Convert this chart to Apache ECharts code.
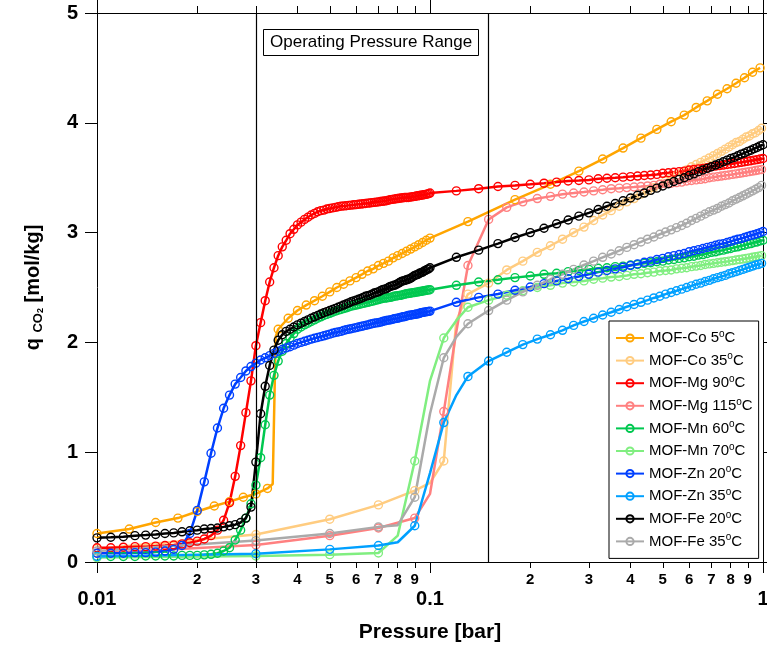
<!DOCTYPE html>
<html><head><meta charset="utf-8">
<script src="https://cdn.jsdelivr.net/npm/echarts@6/dist/echarts.min.js"></script>
<style>html,body{margin:0;padding:0;background:#fff}#c{width:767px;height:647px}</style>
</head><body><div id="c"></div>
<script>
const FONT = '"Liberation Sans", Arial, Helvetica, sans-serif';

// ---- axis ticks / labels ----
const pressureMajor = [0.01, 0.1, 1];
const pressureMajorLabels = ['0.01', '0.1', '1'];
const pressureMinor = [0.02,0.03,0.04,0.05,0.06,0.07,0.08,0.09,0.2,0.3,0.4,0.5,0.6,0.7,0.8,0.9];
const pressureMinorLabels = ['2','3','4','5','6','7','8','9','2','3','4','5','6','7','8','9'];
const qTicks = [0, 1, 2, 3, 4, 5];
const operatingRange = [0.03, 0.15];
const operatingLabel = 'Operating Pressure Range';

// ---- series ----
const seriesNames = ['MOF-Co 5°C','MOF-Co 35°C','MOF-Mg 90°C','MOF-Mg 115°C','MOF-Mn 60°C',
  'MOF-Mn 70°C','MOF-Zn 20°C','MOF-Zn 35°C','MOF-Fe 20°C','MOF-Fe 35°C'];

// [pressure bar, q mol/kg]  (third element 0 = point without marker)
const co5 = [[0.01,0.26],[0.0125,0.30],[0.015,0.36],[0.0175,0.40],[0.02,0.46],[0.0225,0.51],[0.025,0.55],[0.0275,0.59],[0.03,0.62],[0.0325,0.67],[0.0337,0.71,0],[0.0344,2.05,0],
 [0.035,2.12],[0.0375,2.22],[0.04,2.29],[0.0425,2.34],[0.045,2.38],[0.0475,2.42],[0.05,2.46],[0.0525,2.50],[0.055,2.53],[0.0575,2.56],[0.06,2.59],[0.0625,2.62],[0.065,2.65],[0.0675,2.67],[0.07,2.70],[0.0725,2.72],[0.075,2.74],[0.0775,2.77],[0.08,2.79],[0.0825,2.81],[0.085,2.83],[0.0875,2.85],[0.09,2.87],[0.0925,2.89],[0.095,2.91],[0.0975,2.93],[0.1,2.95],
 [0.13,3.10],[0.18,3.30],[0.23,3.44],[0.28,3.56],[0.33,3.67],[0.38,3.77],[0.43,3.86],[0.48,3.94],[0.53,4.01],[0.58,4.07],[0.63,4.14],[0.68,4.20],[0.73,4.26],[0.78,4.31],[0.83,4.36],[0.88,4.41],[0.93,4.46],[0.98,4.50]];

const co35 = [[0.01,0.12],[0.03,0.25],[0.05,0.39],[0.07,0.52],[0.09,0.65],[0.10,0.72,0],[0.11,0.92],[0.12,2.2,0],[0.13,2.44],[0.15,2.54],[0.17,2.66],[0.19,2.74],[0.21,2.82],[0.23,2.88],[0.25,2.94],[0.27,3.00],[0.29,3.05],[0.31,3.11],[0.33,3.16],[0.35,3.20],[0.37,3.24],[0.39,3.28],[0.41,3.31],[0.43,3.35],[0.45,3.38],[0.47,3.41],[0.49,3.44],[0.51,3.47],[0.53,3.50],[0.55,3.52],[0.57,3.55],[0.59,3.57],[0.61,3.60],[0.63,3.62],[0.65,3.64],[0.67,3.66],[0.69,3.68],[0.71,3.70],[0.73,3.72],[0.75,3.74],[0.77,3.76],[0.79,3.78],[0.81,3.80],[0.83,3.82],[0.85,3.83],[0.87,3.85],[0.89,3.87],[0.91,3.88],[0.93,3.90],[0.95,3.91],[0.97,3.93],[0.99,3.95]];

const mg90 = [[0.010,0.13],[0.011,0.13],[0.012,0.135],[0.013,0.14],[0.014,0.14],[0.015,0.145],[0.016,0.15],[0.017,0.155],[0.018,0.165],[0.019,0.175],[0.020,0.19],[0.021,0.21],[0.022,0.24],[0.023,0.29],[0.024,0.38],[0.025,0.54],[0.026,0.78],[0.027,1.06],[0.028,1.36],[0.029,1.65],[0.030,1.97],[0.031,2.18],[0.032,2.38],[0.033,2.55],[0.034,2.68],[0.035,2.79],[0.036,2.87],[0.037,2.93],[0.038,2.99],[0.039,3.03],
 [0.040,3.07],[0.041,3.095],[0.042,3.12],[0.043,3.14],[0.044,3.16],[0.045,3.175],[0.046,3.19],[0.047,3.20],[0.048,3.205],[0.049,3.215],[0.050,3.22],[0.051,3.225],[0.052,3.23],[0.053,3.235],[0.054,3.24],[0.055,3.242],[0.056,3.245],[0.057,3.248],[0.058,3.25],[0.059,3.253],[0.060,3.255],[0.061,3.258],[0.062,3.26],[0.063,3.263],[0.064,3.265],[0.065,3.268],[0.066,3.27],[0.067,3.273],[0.068,3.275],[0.069,3.278],[0.070,3.28],
 [0.071,3.283],[0.072,3.285],[0.073,3.288],[0.074,3.29],[0.075,3.295],[0.076,3.30],[0.077,3.303],[0.078,3.305],[0.079,3.308],[0.080,3.31],[0.081,3.313],[0.082,3.315],[0.083,3.318],[0.084,3.32],[0.085,3.32],[0.086,3.32],[0.087,3.323],[0.088,3.325],[0.089,3.328],[0.090,3.33],[0.091,3.333],[0.092,3.335],[0.093,3.338],[0.094,3.34],[0.095,3.343],[0.096,3.345],[0.097,3.348],[0.098,3.35],[0.099,3.355],[0.100,3.36],
 [0.12,3.38],[0.14,3.40],[0.16,3.42],[0.18,3.43],[0.20,3.44],[0.22,3.45],[0.24,3.46],[0.26,3.47],[0.28,3.475],[0.30,3.48],[0.32,3.49],[0.34,3.495],[0.36,3.50],[0.38,3.505],[0.40,3.51],[0.42,3.515],[0.44,3.52],[0.46,3.525],[0.48,3.53],[0.50,3.54],[0.52,3.545],[0.54,3.55],[0.56,3.555],[0.58,3.56],[0.60,3.57],[0.62,3.575],[0.64,3.58],[0.66,3.585],[0.68,3.59],[0.70,3.60],[0.72,3.605],[0.74,3.61],[0.76,3.615],[0.78,3.62],[0.80,3.625],[0.82,3.63],[0.84,3.635],[0.86,3.64],[0.88,3.645],[0.90,3.65],[0.92,3.655],[0.94,3.66],[0.96,3.665],[0.98,3.67],[1.00,3.675]];

const mg115 = [[0.01,0.08],[0.03,0.155],[0.05,0.24],[0.07,0.31],[0.09,0.40],[0.10,0.62,0],[0.11,1.37],[0.12,2.1,0],[0.13,2.70],[0.15,3.12],[0.17,3.23],[0.19,3.28],[0.21,3.31],[0.23,3.33],[0.25,3.35],[0.27,3.36],[0.29,3.37],[0.31,3.38],[0.33,3.39],[0.35,3.40],[0.37,3.405],[0.39,3.41],[0.41,3.415],[0.43,3.42],[0.45,3.425],[0.47,3.43],[0.49,3.44],[0.51,3.445],[0.53,3.45],[0.55,3.455],[0.57,3.46],[0.59,3.47],[0.61,3.475],[0.63,3.48],[0.65,3.485],[0.67,3.49],[0.69,3.50],[0.71,3.505],[0.73,3.51],[0.75,3.515],[0.77,3.52],[0.79,3.525],[0.81,3.53],[0.83,3.535],[0.85,3.54],[0.87,3.545],[0.89,3.55],[0.91,3.555],[0.93,3.56],[0.95,3.565],[0.97,3.57],[0.99,3.575]];

const mn60 = [[0.010,0.05],[0.011,0.05],[0.012,0.05],[0.013,0.05],[0.014,0.055],[0.015,0.055],[0.016,0.055],[0.017,0.055],[0.018,0.06],[0.019,0.06],[0.020,0.06],[0.021,0.065],[0.022,0.07],[0.023,0.08],[0.024,0.10],[0.025,0.13],[0.026,0.20],[0.027,0.29],[0.028,0.40],[0.029,0.53],[0.030,0.70],[0.031,0.95],[0.032,1.25],[0.033,1.52],[0.034,1.70],[0.035,1.83],[0.036,1.92],[0.037,1.99],[0.038,2.04],[0.039,2.08],
 [0.040,2.12],[0.041,2.14],[0.042,2.16],[0.043,2.175],[0.044,2.19],[0.045,2.205],[0.046,2.22],[0.047,2.233],[0.048,2.245],[0.049,2.255],[0.050,2.265],[0.051,2.275],[0.052,2.285],[0.053,2.293],[0.054,2.30],[0.055,2.308],[0.056,2.315],[0.057,2.323],[0.058,2.33],[0.059,2.335],[0.060,2.34],[0.061,2.345],[0.062,2.35],[0.063,2.355],[0.064,2.36],[0.065,2.365],[0.066,2.37],[0.067,2.375],[0.068,2.38],[0.069,2.385],[0.070,2.39],
 [0.071,2.395],[0.072,2.40],[0.073,2.403],[0.074,2.405],[0.075,2.408],[0.076,2.41],[0.077,2.415],[0.078,2.42],[0.079,2.423],[0.080,2.425],[0.081,2.428],[0.082,2.43],[0.083,2.435],[0.084,2.44],[0.085,2.443],[0.086,2.445],[0.087,2.448],[0.088,2.45],[0.089,2.453],[0.090,2.455],[0.091,2.458],[0.092,2.46],[0.093,2.463],[0.094,2.465],[0.095,2.468],[0.096,2.47],[0.097,2.473],[0.098,2.475],[0.099,2.478],[0.100,2.48],
 [0.12,2.52],[0.14,2.55],[0.16,2.57],[0.18,2.59],[0.20,2.605],[0.22,2.62],[0.24,2.63],[0.26,2.645],[0.28,2.655],[0.30,2.665],[0.32,2.675],[0.34,2.68],[0.36,2.69],[0.38,2.695],[0.40,2.705],[0.42,2.71],[0.44,2.72],[0.46,2.725],[0.48,2.735],[0.50,2.74],[0.52,2.75],[0.54,2.755],[0.56,2.765],[0.58,2.77],[0.60,2.78],[0.62,2.785],[0.64,2.795],[0.66,2.80],[0.68,2.81],[0.70,2.82],[0.72,2.825],[0.74,2.835],[0.76,2.84],[0.78,2.85],[0.80,2.855],[0.82,2.865],[0.84,2.87],[0.86,2.88],[0.88,2.885],[0.90,2.895],[0.92,2.90],[0.94,2.91],[0.96,2.915],[0.98,2.925],[1.00,2.93]];

const mn70 = [[0.01,0.04],[0.03,0.055],[0.05,0.067],[0.07,0.082],[0.08,0.24,0],[0.09,0.92],[0.10,1.65,0],[0.11,2.04],[0.12,2.2,0],[0.13,2.32],[0.15,2.385],[0.17,2.43],[0.19,2.47],[0.21,2.50],[0.23,2.52],[0.25,2.54],[0.27,2.55],[0.29,2.56],[0.31,2.575],[0.33,2.585],[0.35,2.595],[0.37,2.60],[0.39,2.61],[0.41,2.62],[0.43,2.625],[0.45,2.635],[0.47,2.64],[0.49,2.65],[0.51,2.655],[0.53,2.66],[0.55,2.67],[0.57,2.675],[0.59,2.68],[0.61,2.69],[0.63,2.695],[0.65,2.70],[0.67,2.71],[0.69,2.715],[0.71,2.72],[0.73,2.725],[0.75,2.73],[0.77,2.735],[0.79,2.74],[0.81,2.745],[0.83,2.75],[0.85,2.755],[0.87,2.76],[0.89,2.765],[0.91,2.77],[0.93,2.775],[0.95,2.78],[0.97,2.785],[0.99,2.79]];

const zn20 = [[0.010,0.08],[0.011,0.08],[0.012,0.08],[0.013,0.085],[0.014,0.085],[0.015,0.09],[0.016,0.10],[0.017,0.115],[0.018,0.15],[0.019,0.26],[0.020,0.47],[0.021,0.73],[0.022,0.99],[0.023,1.22],[0.024,1.40],[0.025,1.52],[0.026,1.62],[0.027,1.68],[0.028,1.74],[0.029,1.78],[0.030,1.81],[0.031,1.84],[0.032,1.86],[0.033,1.88],[0.034,1.90],[0.035,1.92],[0.036,1.935],[0.037,1.95],[0.038,1.96],[0.039,1.975],
 [0.040,1.99],[0.041,2.00],[0.042,2.01],[0.043,2.02],[0.044,2.03],[0.045,2.038],[0.046,2.045],[0.047,2.053],[0.048,2.06],[0.049,2.068],[0.050,2.075],[0.051,2.083],[0.052,2.09],[0.053,2.095],[0.054,2.10],[0.055,2.108],[0.056,2.115],[0.057,2.12],[0.058,2.125],[0.059,2.13],[0.060,2.135],[0.061,2.14],[0.062,2.145],[0.063,2.15],[0.064,2.155],[0.065,2.16],[0.066,2.165],[0.067,2.17],[0.068,2.175],[0.069,2.178],[0.070,2.18],
 [0.071,2.185],[0.072,2.19],[0.073,2.195],[0.074,2.20],[0.075,2.203],[0.076,2.205],[0.077,2.21],[0.078,2.215],[0.079,2.218],[0.080,2.22],[0.081,2.225],[0.082,2.23],[0.083,2.233],[0.084,2.235],[0.085,2.24],[0.086,2.245],[0.087,2.248],[0.088,2.25],[0.089,2.253],[0.090,2.255],[0.091,2.258],[0.092,2.26],[0.093,2.265],[0.094,2.27],[0.095,2.273],[0.096,2.275],[0.097,2.278],[0.098,2.28],[0.099,2.283],[0.100,2.285],
 [0.12,2.365],[0.14,2.41],[0.16,2.44],[0.18,2.475],[0.20,2.505],[0.22,2.535],[0.24,2.56],[0.26,2.58],[0.28,2.60],[0.30,2.62],[0.32,2.64],[0.34,2.655],[0.36,2.67],[0.38,2.685],[0.40,2.70],[0.42,2.715],[0.44,2.73],[0.46,2.74],[0.48,2.755],[0.50,2.765],[0.52,2.78],[0.54,2.79],[0.56,2.80],[0.58,2.81],[0.60,2.825],[0.62,2.835],[0.64,2.845],[0.66,2.855],[0.68,2.865],[0.70,2.875],[0.72,2.885],[0.74,2.895],[0.76,2.90],[0.78,2.91],[0.80,2.92],[0.82,2.93],[0.84,2.94],[0.86,2.945],[0.88,2.955],[0.90,2.965],[0.92,2.975],[0.94,2.98],[0.96,2.99],[0.98,3.00],[1.00,3.01]];

const zn35 = [[0.01,0.05],[0.03,0.075],[0.05,0.115],[0.07,0.15],[0.08,0.18,0],[0.09,0.33],[0.10,0.81,0],[0.11,1.27],[0.12,1.52,0],[0.13,1.69],[0.15,1.83],[0.17,1.91],[0.19,1.98],[0.21,2.03],[0.23,2.07],[0.25,2.11],[0.27,2.155],[0.29,2.19],[0.31,2.22],[0.33,2.25],[0.35,2.275],[0.37,2.30],[0.39,2.325],[0.41,2.345],[0.43,2.365],[0.45,2.385],[0.47,2.405],[0.49,2.42],[0.51,2.44],[0.53,2.455],[0.55,2.47],[0.57,2.485],[0.59,2.50],[0.61,2.515],[0.63,2.53],[0.65,2.54],[0.67,2.555],[0.69,2.565],[0.71,2.58],[0.73,2.59],[0.75,2.60],[0.77,2.61],[0.79,2.625],[0.81,2.635],[0.83,2.645],[0.85,2.655],[0.87,2.665],[0.89,2.675],[0.91,2.685],[0.93,2.695],[0.95,2.705],[0.97,2.71],[0.99,2.72]];

const fe20 = [[0.010,0.22],[0.011,0.225],[0.012,0.23],[0.013,0.24],[0.014,0.245],[0.015,0.25],[0.016,0.26],[0.017,0.265],[0.018,0.275],[0.019,0.285],[0.020,0.29],[0.021,0.30],[0.022,0.305],[0.023,0.31],[0.024,0.32],[0.025,0.33],[0.026,0.34],[0.027,0.36],[0.028,0.40],[0.029,0.50],[0.030,0.91],[0.031,1.35],[0.032,1.60],[0.033,1.79],[0.034,1.93],[0.035,2.02],[0.036,2.07],[0.037,2.10],[0.038,2.12],[0.039,2.14],
 [0.040,2.16],[0.041,2.175],[0.042,2.19],[0.043,2.205],[0.044,2.22],[0.045,2.233],[0.046,2.245],[0.047,2.258],[0.048,2.27],[0.049,2.28],[0.050,2.29],[0.051,2.30],[0.052,2.31],[0.053,2.32],[0.054,2.33],[0.055,2.34],[0.056,2.35],[0.057,2.36],[0.058,2.37],[0.059,2.378],[0.060,2.385],[0.061,2.393],[0.062,2.40],[0.063,2.41],[0.064,2.42],[0.065,2.425],[0.066,2.43],[0.067,2.44],[0.068,2.45],[0.069,2.455],[0.070,2.46],
 [0.071,2.47],[0.072,2.48],[0.073,2.485],[0.074,2.49],[0.075,2.50],[0.076,2.51],[0.077,2.515],[0.078,2.52],[0.079,2.525],[0.080,2.535],[0.081,2.545],[0.082,2.555],[0.083,2.56],[0.084,2.565],[0.085,2.57],[0.086,2.575],[0.087,2.58],[0.088,2.59],[0.089,2.60],[0.090,2.61],[0.091,2.615],[0.092,2.62],[0.093,2.63],[0.094,2.635],[0.095,2.64],[0.096,2.65],[0.097,2.655],[0.098,2.665],[0.099,2.67],[0.100,2.68],
 [0.12,2.775],[0.14,2.84],[0.16,2.90],[0.18,2.955],[0.20,3.00],[0.22,3.04],[0.24,3.08],[0.26,3.115],[0.28,3.15],[0.30,3.18],[0.32,3.21],[0.34,3.24],[0.36,3.265],[0.38,3.29],[0.40,3.315],[0.42,3.34],[0.44,3.36],[0.46,3.385],[0.48,3.405],[0.50,3.425],[0.52,3.445],[0.54,3.465],[0.56,3.485],[0.58,3.50],[0.60,3.52],[0.62,3.535],[0.64,3.555],[0.66,3.57],[0.68,3.585],[0.70,3.60],[0.72,3.615],[0.74,3.63],[0.76,3.645],[0.78,3.66],[0.80,3.675],[0.82,3.685],[0.84,3.70],[0.86,3.715],[0.88,3.725],[0.90,3.74],[0.92,3.75],[0.94,3.765],[0.96,3.775],[0.98,3.79],[1.00,3.80]];

const fe35 = [[0.01,0.10],[0.03,0.195],[0.05,0.26],[0.07,0.32],[0.08,0.335,0],[0.09,0.59],[0.10,1.35,0],[0.11,1.86],[0.12,2.05,0],[0.13,2.17],[0.15,2.29],[0.17,2.385],[0.19,2.46],[0.21,2.52],[0.23,2.575],[0.25,2.62],[0.27,2.665],[0.29,2.705],[0.31,2.74],[0.33,2.775],[0.35,2.805],[0.37,2.835],[0.39,2.865],[0.41,2.89],[0.43,2.915],[0.45,2.94],[0.47,2.96],[0.49,2.985],[0.51,3.005],[0.53,3.025],[0.55,3.045],[0.57,3.065],[0.59,3.085],[0.61,3.11],[0.63,3.13],[0.65,3.15],[0.67,3.17],[0.69,3.19],[0.71,3.205],[0.73,3.22],[0.75,3.24],[0.77,3.255],[0.79,3.27],[0.81,3.29],[0.83,3.305],[0.85,3.32],[0.87,3.335],[0.89,3.35],[0.91,3.365],[0.93,3.38],[0.95,3.395],[0.97,3.41],[0.99,3.43]];

const seriesPoints = [co5, co35, mg90, mg115, mn60, mn70, zn20, zn35, fe20, fe35];
const seriesColors = ['#FFA500','#FFCC80','#FF0000','#FF8080','#00C850','#80EE80','#0040FF','#00A0FF','#000000','#AAAAAA'];

// ---- build chart ----
function pick(values, labels, v) {
  for (let i = 0; i < values.length; i++) {
    if (Math.abs(Math.log10(values[i] / v)) < 0.005) return labels[i];
  }
  return '';
}
const chart = echarts.init(document.getElementById('c'), null, {renderer: 'canvas'});
const gridBox = {left: 97, right: 4, top: 13, bottom: 85, containLabel: false, outerBoundsMode: 'none'};
const axisLineStyle = {color: '#000', width: 1};
const logBase = {type: 'log', logBase: 10, min: 0.01, max: 1, splitLine: {show: false}, minorTick: {show: false}, axisPointer: {show: false}};

const series = seriesPoints.map((pts, i) => ({
  type: 'line', name: seriesNames[i], xAxisIndex: 0, yAxisIndex: 0,
  data: pts.map(p => p.length > 2 ? {value: [p[0], p[1]], symbol: 'none'} : [p[0], p[1]]),
  symbol: 'circle', symbolSize: 8, showSymbol: true, showAllSymbol: true,
  lineStyle: {color: seriesColors[i], width: 2.5},
  itemStyle: {color: 'rgba(255,255,255,0)', borderColor: seriesColors[i], borderWidth: 1.4},
  emphasis: {disabled: true}, silent: true, animation: false
}));
// the two operating-pressure boundaries, drawn by a separate line-less series
series.push({
  type: 'line', name: 'range', xAxisIndex: 0, yAxisIndex: 0, data: [], symbol: 'none',
  silent: true, animation: false,
  markLine: {
    silent: true, symbol: ['none', 'none'], label: {show: false}, animation: false, emphasis: {disabled: true},
    lineStyle: {color: '#000', width: 1.2, type: 'solid'},
    data: operatingRange.map(v => ({xAxis: v}))
  }
});

chart.setOption({
  animation: false,
  backgroundColor: '#fff',
  title: {
    text: operatingLabel, left: 263, top: 29, padding: [4, 7, 4, 7],
    borderColor: '#000', borderWidth: 1, backgroundColor: '#fff',
    textStyle: {fontFamily: FONT, fontSize: 17, fontWeight: 'normal', color: '#000', lineHeight: 19}
  },
  legend: {
    orient: 'vertical', left: 609, top: 321, padding: [8, 6, 8, 6], itemGap: 4.6,
    itemWidth: 28, itemHeight: 9, borderColor: '#000', borderWidth: 1, backgroundColor: '#fff',
    selectedMode: false, data: seriesNames,
    formatter: n => n.replace('°', '{sup|o}'),
    textStyle: {fontFamily: FONT, fontSize: 15, lineHeight: 18, color: '#000',
      rich: {sup: {fontFamily: FONT, fontSize: 10, lineHeight: 10, verticalAlign: 'top', color: '#000'}}}
  },
  grid: [Object.assign({}, gridBox), Object.assign({}, gridBox)],
  xAxis: [
    Object.assign({}, logBase, {
      gridIndex: 0, position: 'bottom',
      axisLine: {show: true, onZero: false, lineStyle: axisLineStyle},
      axisTick: {show: true, inside: false, length: 11, customValues: pressureMajor, lineStyle: axisLineStyle},
      axisLabel: {customValues: pressureMajor, formatter: v => pick(pressureMajor, pressureMajorLabels, v),
        margin: 27, fontFamily: FONT, fontSize: 20, fontWeight: 'bold', color: '#000'},
      name: 'Pressure [bar]', nameLocation: 'middle', nameGap: 60,
      nameTextStyle: {fontFamily: FONT, fontSize: 21, fontWeight: 'bold', color: '#000'}
    }),
    Object.assign({}, logBase, {
      gridIndex: 0, position: 'top',
      axisLine: {show: true, onZero: false, lineStyle: axisLineStyle},
      axisTick: {show: true, inside: false, length: 13, customValues: pressureMajor, lineStyle: axisLineStyle},
      axisLabel: {show: false}
    }),
    Object.assign({}, logBase, {
      gridIndex: 1, position: 'bottom',
      axisLine: {show: false, onZero: false},
      axisTick: {show: true, inside: false, length: 6, customValues: pressureMinor, lineStyle: axisLineStyle},
      axisLabel: {customValues: pressureMinor, formatter: v => pick(pressureMinor, pressureMinorLabels, v),
        margin: 10, fontFamily: FONT, fontSize: 15, fontWeight: 'bold', color: '#000'}
    }),
    Object.assign({}, logBase, {
      gridIndex: 1, position: 'top',
      axisLine: {show: false, onZero: false},
      axisTick: {show: true, inside: false, length: 7, customValues: pressureMinor, lineStyle: axisLineStyle},
      axisLabel: {show: false}
    })
  ],
  yAxis: [
    {
      gridIndex: 0, type: 'value', position: 'left', min: qTicks[0], max: qTicks[qTicks.length - 1], interval: 1,
      splitLine: {show: false},
      axisLine: {show: true, onZero: false, lineStyle: axisLineStyle},
      axisTick: {show: true, inside: false, length: 12, lineStyle: axisLineStyle},
      axisLabel: {margin: 19, fontFamily: FONT, fontSize: 20, fontWeight: 'bold', color: '#000'},
      name: '{q|q }{co|CO}{sub|2}{q| [mol/kg]}', nameLocation: 'middle', nameRotate: 90, nameGap: 52,
      nameTextStyle: {fontFamily: FONT, fontWeight: 'bold', color: '#000',
        rich: {
          q: {fontFamily: FONT, fontSize: 20, fontWeight: 'bold', lineHeight: 24, color: '#000'},
          co: {fontFamily: FONT, fontSize: 13, fontWeight: 'bold', lineHeight: 12, verticalAlign: 'bottom', color: '#000'},
          sub: {fontFamily: FONT, fontSize: 9, fontWeight: 'bold', lineHeight: 6, verticalAlign: 'bottom', color: '#000'}
        }}
    },
    {
      gridIndex: 0, type: 'value', position: 'right', min: qTicks[0], max: qTicks[qTicks.length - 1], interval: 1,
      splitLine: {show: false},
      axisLine: {show: true, onZero: false, lineStyle: axisLineStyle},
      axisTick: {show: true, inside: false, length: 8, lineStyle: axisLineStyle},
      axisLabel: {show: false}
    },
    {gridIndex: 1, type: 'value', min: 0, max: 5, show: false}
  ],
  series: series
});
</script></body></html>
